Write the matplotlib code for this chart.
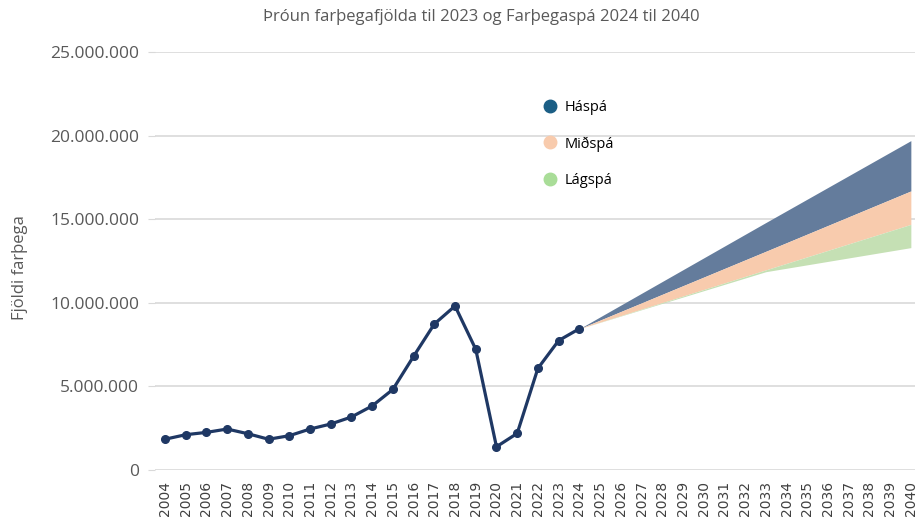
import matplotlib
matplotlib.use("Agg")
import matplotlib.pyplot as plt
from matplotlib.lines import Line2D
from matplotlib.ticker import FuncFormatter

# actual passenger numbers 2004-2024
years = list(range(2004, 2025))
passengers = [1.84e6, 2.11e6, 2.25e6, 2.45e6, 2.17e6, 1.84e6, 2.05e6, 2.45e6,
              2.75e6, 3.17e6, 3.83e6, 4.82e6, 6.80e6, 8.73e6, 9.81e6, 7.22e6,
              1.39e6, 2.19e6, 6.08e6, 7.74e6, 8.45e6]

# forecast bands (read at 2024, 2033, 2040)
fc_years = [2024, 2033, 2040]
haspa = [8.45e6, 14.80e6, 19.70e6]
midspa = [8.45e6, 13.08e6, 16.69e6]
midspa_low = [8.45e6, 11.97e6, 14.69e6]
lagspa = [8.45e6, 11.86e6, 13.30e6]

all_years = list(range(2004, 2041))

plt.rcParams['font.family'] = ['Open Sans', 'DejaVu Sans']

fig = plt.figure(figsize=(9.15, 5.19), dpi=100)
ax = fig.add_axes([154.6 / 915, 49 / 519, 1 - 154.6 / 915, 418 / 519])

ax.fill_between(fc_years, midspa, haspa, color='#647C9C', lw=0, zorder=2)
ax.fill_between(fc_years, midspa_low, midspa, color='#F8CBAD', lw=0, zorder=2)
ax.fill_between(fc_years, lagspa, midspa_low, color='#C5E0B4', lw=0, zorder=2)

ax.plot(years, passengers, color='#1F3864', lw=2.3, marker='o', ms=5.5, zorder=3)

ax.set_xlim(2003.5, 2040.2)
ax.set_ylim(0, 25e6)
ax.set_yticks([0, 5e6, 10e6, 15e6, 20e6, 25e6])
ax.yaxis.set_major_formatter(FuncFormatter(lambda v, p: f"{int(v):,}".replace(',', '.')))
ax.set_xticks(all_years)
ax.set_xticklabels([str(y) for y in all_years], rotation=90, fontsize=10,
                   family='DejaVu Sans', color='#404040')
ax.tick_params(axis='x', length=0, pad=8)
ax.tick_params(axis='y', length=5, color='#D9D9D9', labelsize=12.5,
               labelcolor='#595959', pad=6)

ax.grid(axis='y', color='#D9D9D9', lw=1.2, zorder=0)
ax.set_axisbelow(True)
for s in ax.spines.values():
    s.set_visible(False)

fig.text(20 / 915, 1 - 268 / 519, 'Fjöldi farþega', rotation=90, ha='center',
         va='center', fontsize=12, color='#595959')
fig.text(481 / 915, 1 - 17 / 519,
         'Þróun farþegafjölda til 2023 og Farþegaspá 2024 til 2040',
         ha='center', va='center', fontsize=12, color='#595959')

handles = [Line2D([], [], ls='none', marker='o', ms=9, color='#1B5E85'),
           Line2D([], [], ls='none', marker='o', ms=9, color='#F8CBAD'),
           Line2D([], [], ls='none', marker='o', ms=9, color='#A9DD98')]
leg = ax.legend(handles, ['Háspá', 'Miðspá', 'Lágspá'], loc='upper left',
                bbox_to_anchor=(528 / 915, 1 - 87 / 519),
                bbox_transform=fig.transFigure, frameon=False, fontsize=10.5,
                labelspacing=1.45, handletextpad=0.4, handlelength=1.2)

fig.savefig('out.png', dpi=100)
